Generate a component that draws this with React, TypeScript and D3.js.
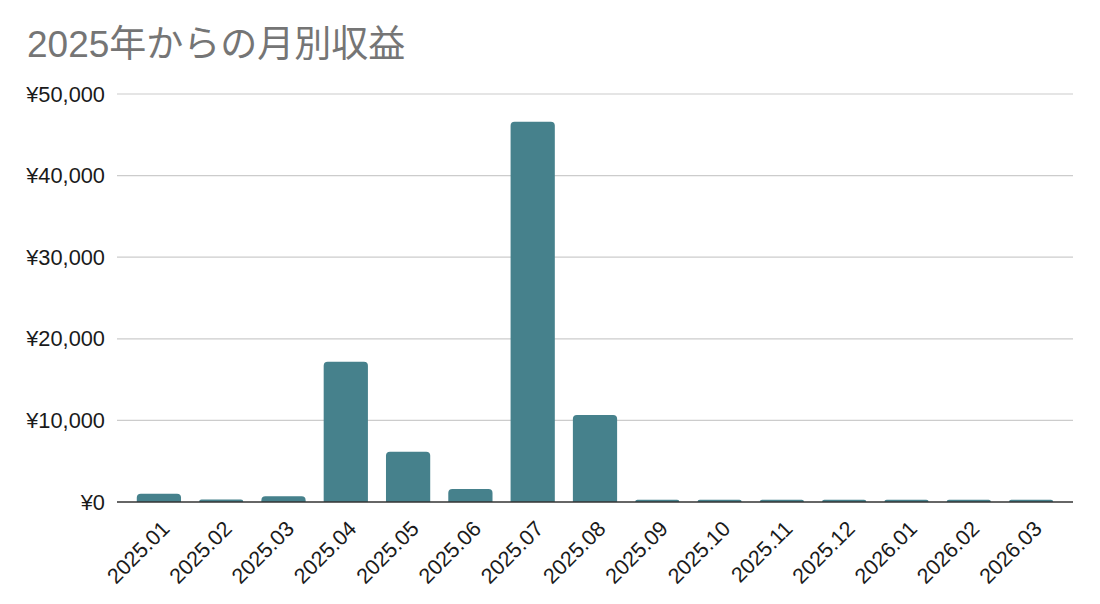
import React from "react";
import * as d3 from "d3";

const months = [
  "2025.01", "2025.02", "2025.03", "2025.04", "2025.05", "2025.06", "2025.07", "2025.08",
  "2025.09", "2025.10", "2025.11", "2025.12", "2026.01", "2026.02", "2026.03",
];
const revenue = [1000, 300, 700, 17200, 6150, 1600, 46600, 10650, 280, 280, 280, 280, 280, 280, 280];
const yTicks = [0, 10000, 20000, 30000, 40000, 50000];
const title = "2025年からの月別収益";

const W = 1100;
const H = 604;
const left = 117;
const right = 1073;
const top = 94;
const bottom = 502;

function topRoundedRect(x: number, y: number, w: number, h: number, r: number) {
  const rr = Math.min(r, h, w / 2);
  return `M${x},${y + h}V${y + rr}Q${x},${y} ${x + rr},${y}H${x + w - rr}Q${x + w},${y} ${x + w},${y + rr}V${y + h}Z`;
}

export default function App() {
  const x = d3.scaleBand<string>().domain(months).range([left + 10.75, right - 10.75]).paddingInner(0.29).paddingOuter(0.145);
  const y = d3.scaleLinear().domain([0, 50000]).range([bottom, top]);
  const fmt = (v: number) => "¥" + d3.format(",")(v);
  const font = "Arial, 'Liberation Sans', Helvetica, sans-serif";

  return (
    <div style={{ position: "fixed", left: 0, top: 0 }}>
      <svg width={W} height={H} style={{ display: "block", background: "#fff" }} fontFamily={font}>
        <text x={27} y={57} fontSize={37} fill="#757575" fontFamily={`${font}, 'Noto Sans CJK JP'`}>
          {title}
        </text>
        {yTicks.map((t) => (
          <g key={t}>
            {t !== 0 && (
              <line x1={left} x2={right} y1={y(t)} y2={y(t)} stroke="#cccccc" strokeWidth={1.2} />
            )}
            <text x={105} y={y(t)} dy="0.35em" textAnchor="end" fontSize={21.8} fill="#1a1a1a">
              {fmt(t)}
            </text>
          </g>
        ))}
        {months.map((m, i) => {
          const bx = x(m)!;
          const bw = x.bandwidth();
          const by = y(revenue[i]);
          return (
            <path key={m} d={topRoundedRect(bx, by, bw, bottom - by, 4)} fill="#46818c" />
          );
        })}
        <line x1={left} x2={right} y1={bottom} y2={bottom} stroke="#333" strokeWidth={1.5} />
        {months.map((m) => {
          const cx = x(m)! + x.bandwidth() / 2 + 12;
          const ty = 530;
          return (
            <text
              key={m}
              x={cx}
              y={ty}
              transform={`rotate(-45 ${cx} ${ty})`}
              textAnchor="end"
              fontSize={21.5}
              fill="#1a1a1a"
            >
              {m}
            </text>
          );
        })}
      </svg>
    </div>
  );
}
